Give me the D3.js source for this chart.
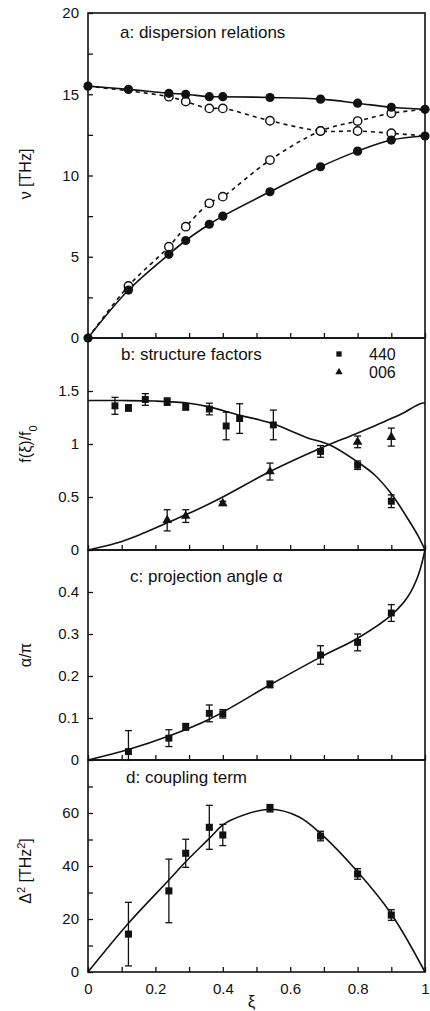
<!DOCTYPE html>
<html>
<head>
<meta charset="utf-8">
<script src="https://cdn.jsdelivr.net/npm/d3@7"></script>
<style>
  body { margin: 0; background: #fff; }
  svg { display: block; font-family: "Liberation Sans", Arial, sans-serif; }
  .tick text { font-size: 15px; fill: #111; }
  .tick line { stroke: #111; stroke-width: 1.3; }
</style>
</head>
<body>
<div id="chart"></div>
<script>
// x ticks shared by all panels
var xTicks = [0, 0.1, 0.2, 0.3, 0.4, 0.5, 0.6, 0.7, 0.8, 0.9, 1];
var xLabels = [0, 0.2, 0.4, 0.6, 0.8, 1];

// a: dispersion relations
var xiA = [0, 0.12, 0.24, 0.29, 0.36, 0.40, 0.54, 0.69, 0.80, 0.90, 1.0];
var upperSolid = [15.5, 15.3, 15.06, 15.0, 14.85, 14.85, 14.8, 14.7, 14.45, 14.2, 14.07];
var lowerSolid = [0, 2.95, 5.15, 6.0, 7.0, 7.5, 9.0, 10.54, 11.5, 12.18, 12.43];
var xiOpenUpper = [0.24, 0.29, 0.36, 0.40, 0.54, 0.69, 0.80, 0.90];
var openUpper = [14.85, 14.55, 14.13, 14.13, 13.37, 12.74, 12.74, 12.6];
var xiOpenLower = [0.12, 0.24, 0.29, 0.36, 0.40, 0.54, 0.69, 0.80, 0.90];
var openLower = [3.2, 5.62, 6.85, 8.29, 8.7, 10.95, 12.74, 13.35, 13.83];
var aTicks = [0, 2.5, 5, 7.5, 10, 12.5, 15, 17.5];
var aLabels = [0, 5, 10, 15, 20];

// b: structure factors
var xi440 = [0.08, 0.12, 0.17, 0.235, 0.29, 0.36, 0.41, 0.45, 0.55, 0.69, 0.80, 0.90];
var f440 = [1.36, 1.34, 1.42, 1.40, 1.35, 1.33, 1.17, 1.24, 1.18, 0.93, 0.80, 0.46];
var err440 = [0.08, 0.03, 0.055, 0.035, 0.03, 0.055, 0.13, 0.14, 0.14, 0.055, 0.04, 0.06];
var xi006 = [0.235, 0.29, 0.40, 0.54, 0.80, 0.90];
var f006 = [0.28, 0.32, 0.44, 0.74, 1.02, 1.065];
var err006 = [0.1, 0.06, 0.02, 0.08, 0.055, 0.085];
var xiCurveB1 = [0, 0.1, 0.2, 0.3, 0.36, 0.45, 0.506, 0.55, 0.604, 0.65, 0.718, 0.8, 0.85, 0.9, 0.95, 0.98, 1.0];
var curveB1 = [1.41, 1.41, 1.405, 1.385, 1.35, 1.27, 1.23, 1.19, 1.12, 1.06, 0.99, 0.83, 0.71, 0.53, 0.29, 0.13, 0];
var xiCurveB2 = [0, 0.082, 0.15, 0.23, 0.31, 0.40, 0.54, 0.69, 0.79, 0.85, 0.90, 0.94, 0.97, 0.99, 1.0];
var curveB2 = [0, 0.063, 0.14, 0.25, 0.36, 0.50, 0.74, 0.96, 1.09, 1.17, 1.24, 1.30, 1.355, 1.385, 1.385];
var bTicks = [0, 0.5, 1, 1.5];

// c: projection angle
var xiC = [0.12, 0.24, 0.29, 0.36, 0.40, 0.54, 0.69, 0.80, 0.90];
var alphaC = [0.02, 0.052, 0.079, 0.111, 0.11, 0.18, 0.25, 0.28, 0.35];
var errC = [0.05, 0.02, 0.008, 0.02, 0.01, 0.008, 0.022, 0.02, 0.02];
var xiCurveC = [0, 0.12, 0.24, 0.36, 0.54, 0.69, 0.80, 0.90, 0.95, 0.98, 1.0];
var curveC = [0, 0.025, 0.057, 0.097, 0.179, 0.245, 0.29, 0.345, 0.39, 0.44, 0.5];
var cTicks = [0, 0.1, 0.2, 0.3, 0.4];

// d: coupling term
var xiD = [0.12, 0.24, 0.29, 0.36, 0.40, 0.54, 0.69, 0.80, 0.90];
var deltaD = [14.3, 30.6, 44.8, 54.6, 51.7, 61.8, 51.3, 37, 21.5];
var errD = [12, 12, 5.3, 8.3, 4, 1.4, 1.8, 2, 2];
var xiCurveD = [0, 0.12, 0.24, 0.29, 0.36, 0.40, 0.425, 0.54, 0.625, 0.69, 0.80, 0.90, 1.0];
var curveD = [0, 18.4, 34.7, 41.6, 50.4, 55.5, 57.4, 61.4, 58.6, 52.3, 37.8, 21.9, 0];
var dTicks = [0, 10, 20, 30, 40, 50, 60, 70];
var dLabels = [0, 20, 40, 60];

var width = 430, height = 1011;
var left = 88, right = 425;

var svg = d3.select("#chart").append("svg")
    .attr("width", width)
    .attr("height", height);

var x = d3.scaleLinear().domain([0, 1]).range([left, right]);

var panels = [
    { top: 13, bottom: 338, domain: [0, 20], titleY: 25 },
    { top: 338, bottom: 550, domain: [0, 2], titleY: 22 },
    { top: 550, bottom: 760, domain: [0, 0.5], titleY: 32 },
    { top: 760, bottom: 972, domain: [0, 80], titleY: 23 }
];
panels.forEach(p => p.y = d3.scaleLinear().domain(p.domain).range([p.bottom, p.top]));

var zip = (xs, ys) => xs.map((v, i) => [v, ys[i]]);
var curve = d3.curveCatmullRom.alpha(0.5);

function lineFor(y) {
    return d3.line().x(d => x(d[0])).y(d => y(d[1])).curve(curve);
}

function drawAxes(p, yTicks, yFmt, last) {
    var g = svg.append("g");

    g.append("g")
        .attr("transform", "translate(" + left + ",0)")
        .call(d3.axisLeft(p.y).tickValues(yTicks).tickFormat(yFmt)
            .tickSizeInner(-5).tickSizeOuter(0).tickPadding(9))
        .call(a => a.select(".domain").remove());

    g.append("g")
        .attr("transform", "translate(0," + p.bottom + ")")
        .call(d3.axisBottom(x).tickValues(xTicks)
            .tickFormat(d => last && xLabels.some(v => Math.abs(v - d) < 1e-9) ? d3.format("~g")(d) : "")
            .tickSizeInner(-5).tickSizeOuter(0).tickPadding(11))
        .call(a => a.select(".domain").remove());

    g.append("rect")
        .attr("x", left)
        .attr("y", p.top)
        .attr("width", right - left)
        .attr("height", p.bottom - p.top)
        .attr("fill", "none")
        .attr("stroke", "#111")
        .attr("stroke-width", 1.6);
}

function drawCurve(p, pts, dashed) {
    svg.append("path")
        .datum(pts)
        .attr("d", lineFor(p.y))
        .attr("fill", "none")
        .attr("stroke", "#111")
        .attr("stroke-width", 1.6)
        .attr("stroke-dasharray", dashed ? "4,4" : null);
}

function drawErrors(p, xs, ys, es) {
    var g = svg.append("g").attr("stroke", "#111").attr("stroke-width", 1.3);
    xs.forEach(function (xi, i) {
        var cx = x(xi), y0 = p.y(Math.max(ys[i] - es[i], 0)), y1 = p.y(ys[i] + es[i]);
        g.append("line").attr("x1", cx).attr("x2", cx).attr("y1", y0).attr("y2", y1);
        g.append("line").attr("x1", cx - 3.5).attr("x2", cx + 3.5).attr("y1", y0).attr("y2", y0);
        g.append("line").attr("x1", cx - 3.5).attr("x2", cx + 3.5).attr("y1", y1).attr("y2", y1);
    });
}

function drawSymbols(p, xs, ys, type, size) {
    svg.append("g")
        .selectAll("path")
        .data(zip(xs, ys))
        .enter()
        .append("path")
        .attr("transform", d => "translate(" + x(d[0]) + "," + p.y(d[1]) + ")")
        .attr("d", d3.symbol().type(type).size(size))
        .attr("fill", "#111");
}

function title(p, txt, tx) {
    svg.append("text")
        .attr("x", tx)
        .attr("y", p.top + p.titleY)
        .style("font-size", "17px")
        .style("fill", "#111")
        .text(txt);
}

function yTitle(cy, build) {
    var t = svg.append("text")
        .attr("transform", "translate(31," + cy + ") rotate(-90)")
        .attr("text-anchor", "middle")
        .style("font-size", "16px")
        .style("fill", "#111");
    build(t);
}

// ---- panel a
var pa = panels[0];
drawAxes(pa, aTicks.concat([20]), d => aLabels.includes(d) ? d : "", false);
drawCurve(pa, zip([0].concat(xiOpenUpper, [1]), [upperSolid[0]].concat(openUpper, [lowerSolid[lowerSolid.length - 1]])), true);
drawCurve(pa, zip([0].concat(xiOpenLower, [1]), [lowerSolid[0]].concat(openLower, [upperSolid[upperSolid.length - 1]])), true);
drawCurve(pa, zip(xiA, upperSolid), false);
drawCurve(pa, zip(xiA, lowerSolid), false);

svg.append("g")
    .selectAll("circle")
    .data(zip(xiOpenUpper, openUpper).concat(zip(xiOpenLower, openLower)))
    .enter()
    .append("circle")
    .attr("cx", d => x(d[0]))
    .attr("cy", d => pa.y(d[1]))
    .attr("r", 4.2)
    .attr("fill", "#fff")
    .attr("stroke", "#111")
    .attr("stroke-width", 1.4);

svg.append("g")
    .selectAll("circle")
    .data(zip(xiA, upperSolid).concat(zip(xiA, lowerSolid)))
    .enter()
    .append("circle")
    .attr("cx", d => x(d[0]))
    .attr("cy", d => pa.y(d[1]))
    .attr("r", 4.6)
    .attr("fill", "#111");

title(pa, "a: dispersion relations", 120);
yTitle(174, t => t.text("\u03bd [THz]"));

// ---- panel b
var pb = panels[1];
drawAxes(pb, bTicks, d3.format("~g"), false);
drawCurve(pb, zip(xiCurveB1, curveB1), false);
drawCurve(pb, zip(xiCurveB2, curveB2), false);
drawErrors(pb, xi440, f440, err440);
drawErrors(pb, xi006, f006, err006);
drawSymbols(pb, xi440, f440, d3.symbolSquare, 48);
drawSymbols(pb, xi006, f006, d3.symbolTriangle, 40);
title(pb, "b: structure factors", 121);

// legend
var legend = svg.append("g").attr("transform", "translate(339,0)");
legend.append("path")
    .attr("transform", "translate(0,354)")
    .attr("d", d3.symbol().type(d3.symbolSquare).size(28))
    .attr("fill", "#111");
legend.append("path")
    .attr("transform", "translate(0,372)")
    .attr("d", d3.symbol().type(d3.symbolTriangle).size(24))
    .attr("fill", "#111");
legend.selectAll("text")
    .data(["440", "006"])
    .enter()
    .append("text")
    .attr("x", 30)
    .attr("y", (d, i) => 360 + i * 17.5)
    .style("font-size", "16px")
    .style("fill", "#111")
    .text(d => d);

yTitle(444, function (t) {
    t.append("tspan").text("f(\u03be)/f");
    t.append("tspan").attr("baseline-shift", "sub").style("font-size", "11px").text("0");
});

// ---- panel c
var pc = panels[2];
drawAxes(pc, cTicks, d3.format("~g"), false);
drawCurve(pc, zip(xiCurveC, curveC), false);
drawErrors(pc, xiC, alphaC, errC);
drawSymbols(pc, xiC, alphaC, d3.symbolSquare, 48);
title(pc, "c: projection angle \u03b1", 130);
yTitle(655, t => t.text("\u03b1/\u03c0"));

// ---- panel d
var pd = panels[3];
drawAxes(pd, dTicks, d => dLabels.includes(d) ? d : "", true);
drawCurve(pd, zip(xiCurveD, curveD), false);
drawErrors(pd, xiD, deltaD, errD);
drawSymbols(pd, xiD, deltaD, d3.symbolSquare, 50);
title(pd, "d: coupling term", 126);
yTitle(871, function (t) {
    t.append("tspan").text("\u0394");
    t.append("tspan").attr("baseline-shift", "super").style("font-size", "11px").text("2");
    t.append("tspan").text(" [THz");
    t.append("tspan").attr("baseline-shift", "super").style("font-size", "11px").text("2");
    t.append("tspan").text("]");
});

// x title
svg.append("text")
    .attr("x", x(0.485))
    .attr("y", 1007)
    .attr("text-anchor", "middle")
    .style("font-size", "17px")
    .style("fill", "#111")
    .text("\u03be");
</script>
</body>
</html>
